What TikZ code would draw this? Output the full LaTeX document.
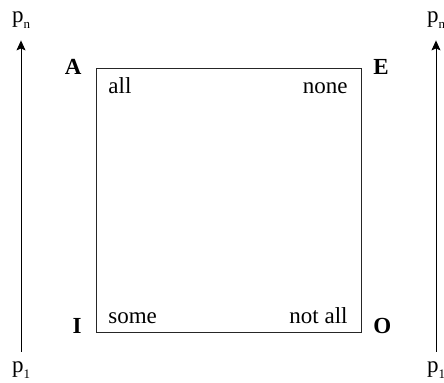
\documentclass[tikz,border=0pt]{standalone}
\usepackage{fontspec}
\setmainfont{Liberation Serif}
\usetikzlibrary{arrows.meta,positioning}
\newcommand{\psub}[1]{p\raisebox{-3pt}{\fontsize{6.5}{7}\selectfont #1}}

\begin{document}
\begin{tikzpicture}[x=0.5pt, y=-0.5pt, every node/.style={inner sep=0pt,font=\fontsize{11.5}{14}\selectfont},
  corner/.style={font=\fontsize{11.5}{14}\selectfont\bfseries},
  plab/.style={anchor=base},
  scale line/.style={-{Stealth[length=5pt,width=4.5pt,inset=1pt]},line width=0.5pt,shorten <=4.5pt,shorten >=6pt}]
  \useasboundingbox (0,0) rectangle (444,382);
  % the square
  \node (square) [draw=black!85,line width=0.5pt,minimum width=132.5pt,minimum height=132pt] at (228.5,200) {};
  \node (all) [anchor=base west] at (108,93) {all};
  \node (none) [anchor=base east] at (348,93) {none};
  \node (some) [anchor=base west] at (108,323) {some};
  \node (notall) [anchor=base east] at (348,323) {not all};
  \node (A) [corner,anchor=base east] at (82,74) {A};
  \node (E) [corner,anchor=base west] at (373,74) {E};
  \node (I) [corner,anchor=base east] at (82,333) {I};
  \node (O) [corner,anchor=base west] at (373,333) {O};
  % the two scales
  \node (pnL) [plab] at (21,22) {\psub{n}};
  \node (p1L) [plab] at (21,372) {\psub{1}};
  \node (pnR) [plab] at (436,22) {\psub{n}};
  \node (p1R) [plab] at (436,372) {\psub{1}};
  \draw[scale line] (p1L) -- (pnL);
  \draw[scale line] (p1R) -- (pnR);
\end{tikzpicture}
\end{document}
